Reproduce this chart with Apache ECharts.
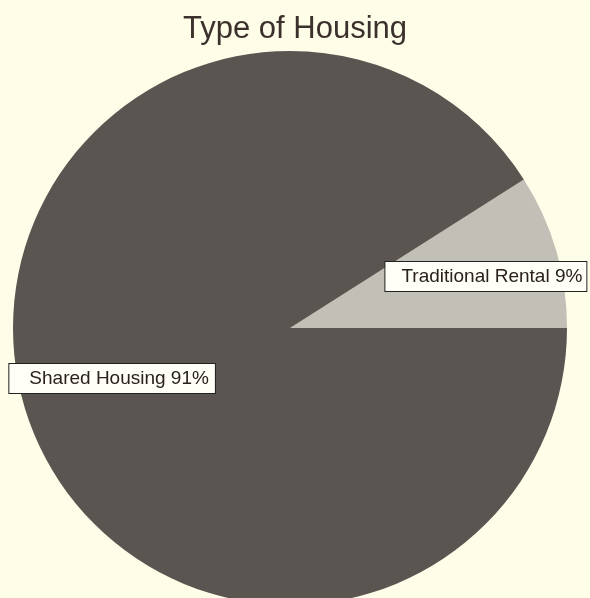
<!DOCTYPE html>
<html>
<head>
<meta charset="utf-8">
<script src="https://cdn.jsdelivr.net/npm/echarts@6/dist/echarts.min.js"></script>
<style>
    html, body { margin: 0; padding: 0; background: #fdfde8; }
    #chart { width: 590px; height: 598px; }
</style>
</head>
<body>
<div id="chart"></div>
<script type="text/javascript">
    var categories = ['Traditional Rental', 'Shared Housing'];
    var values = [9, 91];
    var sliceColors = ['#c2c0b6', '#5a5550'];
    var labelOffsets = [[60, -12], [-42, 11]];
    var labelPadding = [[5, 4, 5, 16], [5, 6, 5, 20]];

    var data = [];
    for (var i = 0; i < categories.length; i++) {
        data.push({
            name: categories[i],
            value: values[i],
            itemStyle: { color: sliceColors[i] },
            label: { offset: labelOffsets[i], padding: labelPadding[i] }
        });
    }

    var myChart = echarts.init(document.getElementById('chart'));
    var option = {
        backgroundColor: '#fdfde8',
        animation: false,
        title: {
            text: 'Type of Housing',
            left: 'center',
            top: 9,
            textStyle: {
                fontFamily: 'Liberation Sans',
                fontSize: 31,
                fontWeight: 'normal',
                color: '#3b302c'
            }
        },
        series: [{
            type: 'pie',
            radius: 277,
            center: [290, 328],
            startAngle: 32.4,
            clockwise: true,
            data: data,
            label: {
                show: true,
                position: 'inside',
                formatter: function (p) {
                    return p.name + ' ' + p.value + '%';
                },
                fontFamily: 'Liberation Sans',
                fontSize: 19,
                color: '#2a201c',
                backgroundColor: '#fffff8',
                borderColor: '#222',
                borderWidth: 1
            },
            labelLine: { show: false },
            itemStyle: {
                borderWidth: 0
            },
            emphasis: { disabled: true }
        }]
    };
    myChart.setOption(option);
</script>
</body>
</html>
